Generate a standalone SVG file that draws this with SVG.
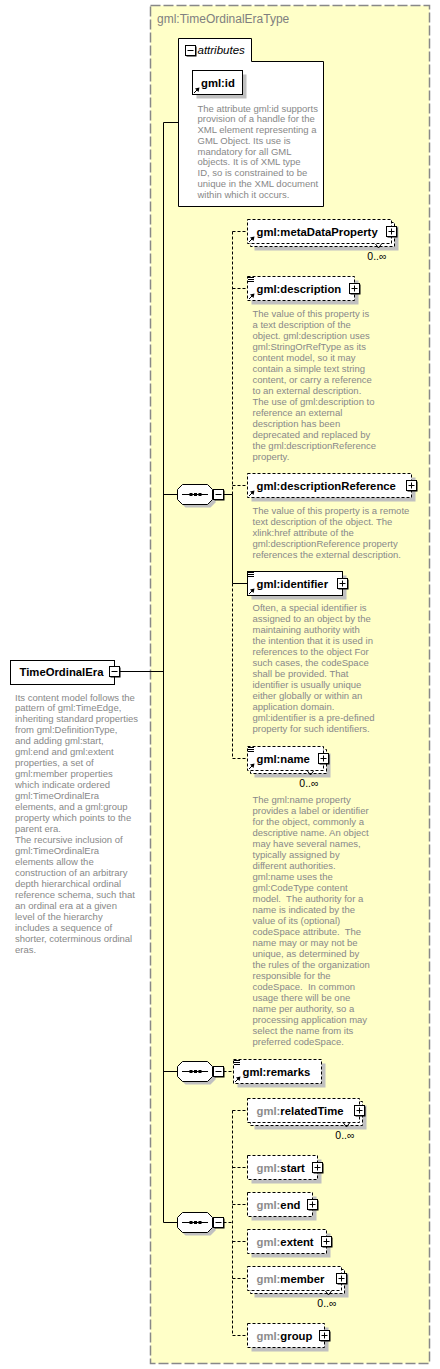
<svg xmlns="http://www.w3.org/2000/svg" xmlns:xlink="http://www.w3.org/1999/xlink" width="440" height="1369" viewBox="0 0 440 1369">
<style>
.title{font-family:"Liberation Sans",Arial,sans-serif;font-size:12px;fill:#808080}
.el{font-family:"Liberation Sans",Arial,sans-serif;font-size:11.3px;font-weight:bold;fill:#000}
.main{font-size:11.3px}
.pfx{fill:#8c8c8c}
.desc{font-family:"Liberation Sans",Arial,sans-serif;font-size:9.5px;fill:#888}
.occ{font-family:"Liberation Sans",Arial,sans-serif;font-size:10.5px;fill:#000;text-anchor:end}
.attr{font-family:"Liberation Sans",Arial,sans-serif;font-size:11.5px;font-style:italic;fill:#000}
.box{fill:#fff;stroke:#000;stroke-width:1}
.opt{stroke-dasharray:3,2}
.sh{fill:#c0c0c0}
.ln{stroke:#000;stroke-width:1;fill:none}
.dash{stroke-dasharray:3,2}
.type{fill:#ffffc8;stroke:#888;stroke-width:1.5;stroke-dasharray:10,3}
</style>
<defs>
<g id="plus"><rect x="1" y="1" width="10" height="10" fill="#000"/><rect x="0" y="0" width="10" height="10" fill="#fff" stroke="#000"/><path d="M2,5H8M5,2V8" stroke="#000" fill="none"/></g>
<g id="minus"><rect x="1" y="1" width="10" height="10" fill="#000"/><rect x="0" y="0" width="10" height="10" fill="#fff" stroke="#000"/><path d="M2,5H8" stroke="#000" fill="none"/></g>
<g id="ref"><path d="M1.5,-1.5L5,-5" stroke="#000" fill="none"/><path d="M7,-7L2.5,-6L6,-2.5Z" fill="#000"/></g>
<path id="simple" d="M0.5,1H6.5M0.5,3H6.5M0.5,5H6.5" stroke="#000" fill="none"/>
<g id="seq"><path d="M8,3H33L38,8V18L33,23H8L3,18V8Z" fill="#c0c0c0"/><path d="M5,0H30L35,5V15L30,20H5L0,15V5Z" fill="#fff" stroke="#000"/><path d="M4.5,10H30.5" stroke="#000"/><rect x="12" y="8.5" width="3" height="3" fill="#000"/><rect x="16.5" y="8.5" width="3" height="3" fill="#000"/><rect x="21" y="8.5" width="3" height="3" fill="#000"/></g>
</defs>

<g id="type-box">
<rect class="type" x="150.5" y="5.5" width="279" height="1358"/>
<text class="title" x="157" y="23">gml:TimeOrdinalEraType</text>
</g>

<g id="connectors">
<path class="ln" d="M119.5,671.5H163.5M163.5,122.5V1222.5M163.5,122.5H178.5M163.5,494.5H177.5M163.5,1071.5H177.5M163.5,1222.5H177.5"/>
<path class="ln" d="M223.5,494.5H232.5M232.5,494.5V583.5M232.5,583.5H247.5"/>
<path class="ln dash" d="M232.5,231.5V494.5M232.5,583.5V758.5M232.5,231.5H247.5M232.5,288.5H247.5M232.5,485.5H247.5M232.5,758.5H247.5"/>
<path class="ln dash" d="M223.5,1071.5H233.5"/>
<path class="ln dash" d="M223.5,1222.5H232.5M232.5,1110.5V1335.5M232.5,1110.5H247.5M232.5,1167.5H247.5M232.5,1204.5H247.5M232.5,1241.5H247.5M232.5,1278.5H247.5M232.5,1335.5H247.5"/>
</g>

<g id="attributes">
<path class="box" d="M178.5,38.5H251.5V61.5H323.5V206.5H178.5Z"/>
<use xlink:href="#minus" x="185.5" y="45.5"/>
<text class="attr" x="197.5" y="54">attributes</text>
</g>

<g id="gml-id">
<rect class="sh" x="196.5" y="74.5" width="50" height="24"/>
<rect class="box" x="192.5" y="70.5" width="50" height="24"/>
<text class="el" x="201" y="86.5">gml:id</text>
<use xlink:href="#ref" x="192.5" y="94.5"/>
<text class="desc" x="197.5" y="111.5"><tspan x="197.5" dy="0">The attribute gml:id supports</tspan><tspan x="197.5" dy="10.75">provision of a handle for the</tspan><tspan x="197.5" dy="10.75">XML element representing a</tspan><tspan x="197.5" dy="10.75">GML Object. Its use is</tspan><tspan x="197.5" dy="10.75">mandatory for all GML</tspan><tspan x="197.5" dy="10.75">objects. It is of XML type</tspan><tspan x="197.5" dy="10.75">ID, so is constrained to be</tspan><tspan x="197.5" dy="10.75">unique in the XML document</tspan><tspan x="197.5" dy="10.75">within which it occurs.</tspan></text>
</g>

<g id="TimeOrdinalEra">
<rect class="box" x="10.5" y="660.5" width="104" height="24"/>
<text class="el main" x="19.5" y="676">TimeOrdinalEra</text>
<use xlink:href="#minus" x="109.5" y="666.5"/>
<text class="desc" x="15" y="700.5"><tspan x="15" dy="0">Its content model follows the</tspan><tspan x="15" dy="10.96">pattern of gml:TimeEdge,</tspan><tspan x="15" dy="10.96">inheriting standard properties</tspan><tspan x="15" dy="10.96">from gml:DefinitionType,</tspan><tspan x="15" dy="10.96">and adding gml:start,</tspan><tspan x="15" dy="10.96">gml:end and gml:extent</tspan><tspan x="15" dy="10.96">properties, a set of</tspan><tspan x="15" dy="10.96">gml:member properties</tspan><tspan x="15" dy="10.96">which indicate ordered</tspan><tspan x="15" dy="10.96">gml:TimeOrdinalEra</tspan><tspan x="15" dy="10.96">elements, and a gml:group</tspan><tspan x="15" dy="10.96">property which points to the</tspan><tspan x="15" dy="10.96">parent era.</tspan><tspan x="15" dy="10.96">The recursive inclusion of</tspan><tspan x="15" dy="10.96">gml:TimeOrdinalEra</tspan><tspan x="15" dy="10.96">elements allow the</tspan><tspan x="15" dy="10.96">construction of an arbitrary</tspan><tspan x="15" dy="10.96">depth hierarchical ordinal</tspan><tspan x="15" dy="10.96">reference schema, such that</tspan><tspan x="15" dy="10.96">an ordinal era at a given</tspan><tspan x="15" dy="10.96">level of the hierarchy</tspan><tspan x="15" dy="10.96">includes a sequence of</tspan><tspan x="15" dy="10.96">shorter, coterminous ordinal</tspan><tspan x="15" dy="10.96">eras.</tspan></text>
</g>

<g id="sequence-1"><use xlink:href="#seq" x="177.5" y="484.5"/><use xlink:href="#minus" x="213.5" y="489.5"/></g>
<g id="sequence-2"><use xlink:href="#seq" x="177.5" y="1061.5"/><use xlink:href="#minus" x="213.5" y="1066.5"/></g>
<g id="sequence-3"><use xlink:href="#seq" x="177.5" y="1212.5"/><use xlink:href="#minus" x="213.5" y="1217.5"/></g>

<g id="metaDataProperty">
<rect class="sh" x="254.5" y="226.5" width="144" height="24"/>
<rect class="box opt" x="250.5" y="222.5" width="144" height="24"/>
<rect class="box opt" x="247.5" y="219.5" width="144" height="24"/>
<path class="ln" d="M375.5,244L378.5,248L381.5,244"/>
<text class="el" x="256.5" y="235.5">gml:metaDataProperty</text>
<use xlink:href="#plus" x="386.5" y="226.5"/>
<use xlink:href="#ref" x="247.5" y="243.5"/>
<text class="occ" x="386.5" y="260">0..∞</text>
</g>

<g id="description">
<rect class="sh" x="251.5" y="280.5" width="107" height="24"/>
<rect class="box opt" x="247.5" y="276.5" width="107" height="24"/>
<use xlink:href="#simple" x="247.5" y="276.5"/>
<text class="el" x="256.5" y="292.5">gml:description</text>
<use xlink:href="#plus" x="349.5" y="283.5"/>
<use xlink:href="#ref" x="247.5" y="300.5"/>
<text class="desc" x="252.5" y="316.5"><tspan x="252.5" dy="0">The value of this property is</tspan><tspan x="252.5" dy="11.03">a text description of the</tspan><tspan x="252.5" dy="11.03">object. gml:description uses</tspan><tspan x="252.5" dy="11.03">gml:StringOrRefType as its</tspan><tspan x="252.5" dy="11.03">content model, so it may</tspan><tspan x="252.5" dy="11.03">contain a simple text string</tspan><tspan x="252.5" dy="11.03">content, or carry a reference</tspan><tspan x="252.5" dy="11.03">to an external description.</tspan><tspan x="252.5" dy="11.03">The use of gml:description to</tspan><tspan x="252.5" dy="11.03">reference an external</tspan><tspan x="252.5" dy="11.03">description has been</tspan><tspan x="252.5" dy="11.03">deprecated and replaced by</tspan><tspan x="252.5" dy="11.03">the gml:descriptionReference</tspan><tspan x="252.5" dy="11.03">property.</tspan></text>
</g>

<g id="descriptionReference">
<rect class="sh" x="251.5" y="477.5" width="164" height="24"/>
<rect class="box opt" x="247.5" y="473.5" width="164" height="24"/>
<text class="el" x="256.5" y="489.5">gml:descriptionReference</text>
<use xlink:href="#plus" x="406.5" y="480.5"/>
<use xlink:href="#ref" x="247.5" y="497.5"/>
<text class="desc" x="252.5" y="513.5"><tspan x="252.5" dy="0">The value of this property is a remote</tspan><tspan x="252.5" dy="11">text description of the object. The</tspan><tspan x="252.5" dy="11">xlink:href attribute of the</tspan><tspan x="252.5" dy="11">gml:descriptionReference property</tspan><tspan x="252.5" dy="11">references the external description.</tspan></text>
</g>

<g id="identifier">
<rect class="sh" x="251.5" y="575.5" width="95" height="24"/>
<rect class="box" x="247.5" y="571.5" width="95" height="24"/>
<use xlink:href="#simple" x="247.5" y="571.5"/>
<text class="el" x="256.5" y="587.5">gml:identifier</text>
<use xlink:href="#plus" x="337.5" y="578.5"/>
<use xlink:href="#ref" x="247.5" y="595.5"/>
<text class="desc" x="252.5" y="611"><tspan x="252.5" dy="0">Often, a special identifier is</tspan><tspan x="252.5" dy="10.96">assigned to an object by the</tspan><tspan x="252.5" dy="10.96">maintaining authority with</tspan><tspan x="252.5" dy="10.96">the intention that it is used in</tspan><tspan x="252.5" dy="10.96">references to the object For</tspan><tspan x="252.5" dy="10.96">such cases, the codeSpace</tspan><tspan x="252.5" dy="10.96">shall be provided. That</tspan><tspan x="252.5" dy="10.96">identifier is usually unique</tspan><tspan x="252.5" dy="10.96">either globally or within an</tspan><tspan x="252.5" dy="10.96">application domain.</tspan><tspan x="252.5" dy="10.96">gml:identifier is a pre-defined</tspan><tspan x="252.5" dy="10.96">property for such identifiers.</tspan></text>
</g>

<g id="name">
<rect class="sh" x="254.5" y="753.5" width="76" height="24"/>
<rect class="box opt" x="250.5" y="749.5" width="76" height="24"/>
<rect class="box opt" x="247.5" y="746.5" width="76" height="24"/>
<path class="ln" d="M307.5,771L310.5,775L313.5,771"/>
<use xlink:href="#simple" x="247.5" y="746.5"/>
<text class="el" x="256.5" y="762.5">gml:name</text>
<use xlink:href="#plus" x="318.5" y="753.5"/>
<use xlink:href="#ref" x="247.5" y="770.5"/>
<text class="occ" x="318.5" y="787">0..∞</text>
<text class="desc" x="252.5" y="803.3"><tspan x="252.5" dy="0">The gml:name property</tspan><tspan x="252.5" dy="10.99">provides a label or identifier</tspan><tspan x="252.5" dy="10.99">for the object, commonly a</tspan><tspan x="252.5" dy="10.99">descriptive name. An object</tspan><tspan x="252.5" dy="10.99">may have several names,</tspan><tspan x="252.5" dy="10.99">typically assigned by</tspan><tspan x="252.5" dy="10.99">different authorities.</tspan><tspan x="252.5" dy="10.99">gml:name uses the</tspan><tspan x="252.5" dy="10.99">gml:CodeType content</tspan><tspan x="252.5" dy="10.99" xml:space="preserve">model.  The authority for a</tspan><tspan x="252.5" dy="10.99">name is indicated by the</tspan><tspan x="252.5" dy="10.99">value of its (optional)</tspan><tspan x="252.5" dy="10.99" xml:space="preserve">codeSpace attribute.  The</tspan><tspan x="252.5" dy="10.99">name may or may not be</tspan><tspan x="252.5" dy="10.99">unique, as determined by</tspan><tspan x="252.5" dy="10.99">the rules of the organization</tspan><tspan x="252.5" dy="10.99">responsible for the</tspan><tspan x="252.5" dy="10.99" xml:space="preserve">codeSpace.  In common</tspan><tspan x="252.5" dy="10.99">usage there will be one</tspan><tspan x="252.5" dy="10.99">name per authority, so a</tspan><tspan x="252.5" dy="10.99">processing application may</tspan><tspan x="252.5" dy="10.99">select the name from its</tspan><tspan x="252.5" dy="10.99">preferred codeSpace.</tspan></text>
</g>

<g id="remarks">
<rect class="sh" x="237.5" y="1063.5" width="88" height="24"/>
<rect class="box opt" x="233.5" y="1059.5" width="88" height="24"/>
<use xlink:href="#simple" x="233.5" y="1059.5"/>
<text class="el" x="242.5" y="1075.5">gml:remarks</text>
<use xlink:href="#ref" x="233.5" y="1083.5"/>
</g>

<g id="relatedTime">
<rect class="sh" x="254.5" y="1105.5" width="112" height="24"/>
<rect class="box opt" x="250.5" y="1101.5" width="112" height="24"/>
<rect class="box opt" x="247.5" y="1098.5" width="112" height="24"/>
<path class="ln" d="M343.5,1123L346.5,1127L349.5,1123"/>
<text class="el" x="256.5" y="1114.5"><tspan class="pfx">gml:</tspan>relatedTime</text>
<use xlink:href="#plus" x="354.5" y="1105.5"/>
<text class="occ" x="354.5" y="1139">0..∞</text>
</g>

<g id="start">
<rect class="sh" x="251.5" y="1159.5" width="70" height="24"/>
<rect class="box opt" x="247.5" y="1155.5" width="70" height="24"/>
<text class="el" x="256.5" y="1171.5"><tspan class="pfx">gml:</tspan>start</text>
<use xlink:href="#plus" x="312.5" y="1162.5"/>
</g>

<g id="end">
<rect class="sh" x="251.5" y="1196.5" width="65" height="24"/>
<rect class="box opt" x="247.5" y="1192.5" width="65" height="24"/>
<text class="el" x="256.5" y="1208.5"><tspan class="pfx">gml:</tspan>end</text>
<use xlink:href="#plus" x="307.5" y="1199.5"/>
</g>

<g id="extent">
<rect class="sh" x="251.5" y="1233.5" width="79" height="24"/>
<rect class="box opt" x="247.5" y="1229.5" width="79" height="24"/>
<text class="el" x="256.5" y="1245.5"><tspan class="pfx">gml:</tspan>extent</text>
<use xlink:href="#plus" x="321.5" y="1236.5"/>
</g>

<g id="member">
<rect class="sh" x="254.5" y="1273.5" width="94" height="24"/>
<rect class="box opt" x="250.5" y="1269.5" width="94" height="24"/>
<rect class="box opt" x="247.5" y="1266.5" width="94" height="24"/>
<path class="ln" d="M325.5,1291L328.5,1295L331.5,1291"/>
<text class="el" x="256.5" y="1282.5"><tspan class="pfx">gml:</tspan>member</text>
<use xlink:href="#plus" x="336.5" y="1273.5"/>
<text class="occ" x="336.5" y="1307">0..∞</text>
</g>

<g id="group">
<rect class="sh" x="251.5" y="1327.5" width="77" height="24"/>
<rect class="box opt" x="247.5" y="1323.5" width="77" height="24"/>
<text class="el" x="256.5" y="1339.5"><tspan class="pfx">gml:</tspan>group</text>
<use xlink:href="#plus" x="319.5" y="1330.5"/>
</g>
</svg>
